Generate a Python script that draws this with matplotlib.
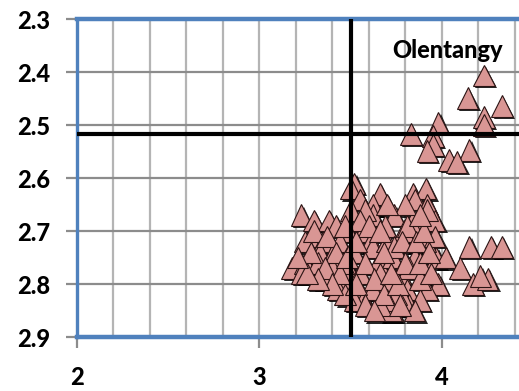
import matplotlib
matplotlib.use("Agg")
import matplotlib.pyplot as plt
import matplotlib.patheffects as pe
from matplotlib.ticker import MultipleLocator

plt.rcParams["font.family"] = ["Lato", "DejaVu Sans"]

# district scores (x, y) - upper-right group first, then the main cluster
x_vals = [
    4.23, 4.14, 4.33, 4.23, 4.23, 3.98, 3.83, 3.95, 3.95, 3.92, 4.15, 4.04, 4.08,
    3.52, 3.50, 3.55, 3.66, 3.84, 3.91, 3.85, 3.92, 3.62, 3.62, 3.74, 3.84, 3.96,
    3.92, 3.85, 3.79, 3.81, 3.48, 3.57, 3.61, 3.52, 3.65, 3.73, 3.77, 3.66, 3.61,
    3.70, 3.81, 3.73, 3.50, 3.46, 3.56, 3.85, 3.97, 4.02, 3.98, 3.92, 3.82, 3.79,
    3.23, 3.30, 3.38, 3.42, 3.28, 3.25, 3.35, 3.44, 3.33, 3.40, 3.18, 3.25, 3.32,
    3.40, 3.23, 3.35, 3.46, 3.43, 3.53, 3.57, 3.72, 3.88, 3.62, 3.75, 3.70, 3.55,
    3.62, 3.70, 3.91, 3.96, 3.50, 3.58, 3.69, 3.74, 3.82, 3.88, 3.52, 3.47, 3.85,
    3.66,
    3.30, 3.37, 3.42, 3.28, 3.36, 3.44, 3.48, 3.55, 3.60, 3.66, 3.68, 3.58, 3.63,
    3.68, 3.76, 3.80, 3.78, 3.86, 3.88, 3.94, 3.90, 3.93, 3.53, 3.58, 3.63, 3.77,
    3.72, 3.47, 3.53, 3.40, 3.32, 3.26, 3.21, 3.80, 3.70, 3.88,
    4.15, 4.27, 4.33, 4.10, 4.17, 4.25, 4.21,
]
y_vals = [
    2.406, 2.449, 2.464, 2.485, 2.500, 2.496, 2.517, 2.521, 2.538, 2.549, 2.547, 2.566, 2.570,
    2.61, 2.62, 2.64, 2.63, 2.63, 2.62, 2.64, 2.65, 2.65, 2.67, 2.67, 2.68, 2.68,
    2.66, 2.70, 2.70, 2.69, 2.70, 2.70, 2.72, 2.74, 2.76, 2.75, 2.78, 2.78, 2.81,
    2.80, 2.81, 2.85, 2.78, 2.76, 2.82, 2.75, 2.75, 2.75, 2.80, 2.81, 2.84, 2.83,
    2.67, 2.68, 2.68, 2.69, 2.71, 2.72, 2.72, 2.72, 2.74, 2.745, 2.77, 2.76, 2.76,
    2.77, 2.78, 2.79, 2.80, 2.81, 2.81, 2.83, 2.85, 2.83, 2.81, 2.82, 2.83, 2.78,
    2.73, 2.72, 2.72, 2.71, 2.66, 2.66, 2.69, 2.73, 2.77, 2.79, 2.83, 2.82, 2.85,
    2.84,
    2.70, 2.71, 2.74, 2.74, 2.77, 2.78, 2.75, 2.68, 2.69, 2.70, 2.74, 2.76, 2.79,
    2.82, 2.80, 2.76, 2.72, 2.72, 2.76, 2.78, 2.70, 2.74, 2.80, 2.84, 2.85, 2.84,
    2.78, 2.69, 2.72, 2.80, 2.79, 2.78, 2.75, 2.65, 2.65, 2.67,
    2.73, 2.73, 2.73, 2.77, 2.80, 2.79, 2.785,
]

x_cut = 3.5
y_cut = 2.517
label = "Olentangy"

fig = plt.figure(figsize=(5.19, 3.91), dpi=100)
ax = fig.add_axes([0.148, 0.138, 0.852, 0.813])

ax.set_xlim(2, 4.422)
ax.set_ylim(2.9, 2.3)

ax.xaxis.set_major_locator(MultipleLocator(1))
ax.xaxis.set_minor_locator(MultipleLocator(0.2))
ax.yaxis.set_major_locator(MultipleLocator(0.1))
ax.yaxis.set_major_formatter(plt.FormatStrFormatter("%.1f"))

ax.grid(True, axis="x", which="both", color="#b4b4b4", linewidth=1.6)
ax.grid(True, axis="y", which="major", color="#8c8c8c", linewidth=1.6)
ax.set_axisbelow(True)

ax.tick_params(axis="both", which="major", direction="out", color="#8c8c8c",
               width=1.6, length=8, labelsize=17)
ax.tick_params(axis="x", which="major", pad=13)
ax.tick_params(axis="y", which="major", pad=11)
ax.tick_params(axis="x", which="minor", length=0)
for lab in ax.get_xticklabels() + ax.get_yticklabels():
    lab.set_fontweight("black")

for side in ("top", "bottom"):
    ax.spines[side].set_color("#4f81bd")
    ax.spines[side].set_linewidth(3.2)
ax.spines["left"].set_color("#4f81bd")
ax.spines["left"].set_linewidth(2.4)
ax.spines["right"].set_visible(False)

ax.plot(x_vals, y_vals, linestyle="none", marker="^", markersize=15.5,
        markerfacecolor="#d99694", markeredgecolor="#2b1414",
        markeredgewidth=0.8, zorder=3,
        path_effects=[pe.SimplePatchShadow(offset=(1.6, -1.6), shadow_rgbFace="black",
                                           alpha=0.85),
                      pe.Normal()])

ax.axvline(x_cut, color="black", linewidth=3, zorder=4)
ax.axhline(y_cut, color="black", linewidth=3, zorder=4)

ax.text(4.03, 2.374, label, ha="center", va="baseline", fontsize=17,
        fontweight="black", color="black", zorder=5)

fig.savefig("out.png", dpi=100, facecolor="white")
